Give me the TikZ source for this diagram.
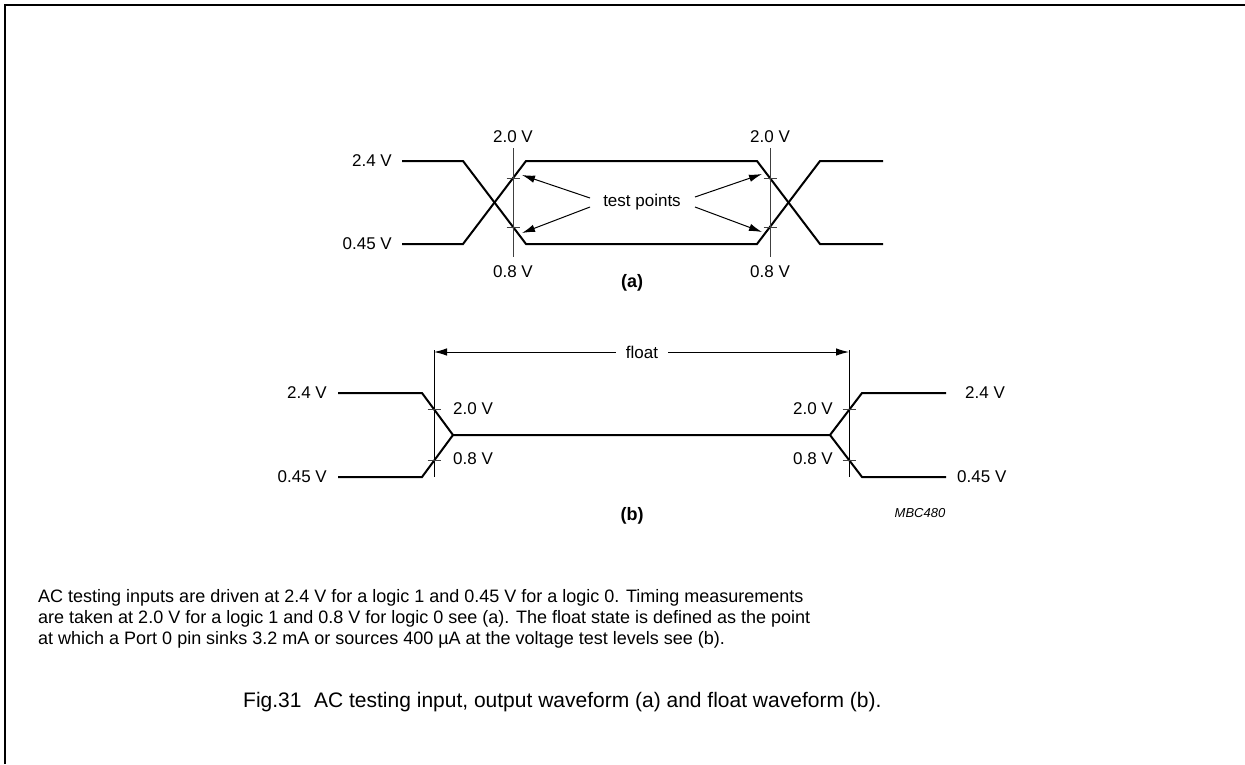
\documentclass[tikz,border=0pt]{standalone}
\usepackage{fontspec}
\setmainfont{Liberation Sans}
\usetikzlibrary{arrows.meta}
\tikzset{
  wave/.style={line width=2pt, line join=miter},
  guide/.style={line width=0.9pt, black!75},
  tick/.style={line width=0.9pt, black!75},
  lab/.style={font=\fontsize{17}{19}\selectfont, inner sep=0pt},
  sub/.style={font=\fontsize{18}{20}\selectfont\bfseries, inner sep=0pt},
  ptr/.style={line width=1pt, -{Latex[length=13pt,width=7.5pt]}},
  frame/.style={line width=2pt},
  para/.style={font=\fontsize{18}{21}\selectfont, inner sep=0pt, anchor=base west},
}
\begin{document}
\begin{tikzpicture}[x=1pt,y=-1pt]
\useasboundingbox (0,0) rectangle (1245,764);
\fill[white] (0,0) rectangle (1245,764);
% frame
\coordinate (fbl) at (5,764);
\coordinate (ftl) at (5,5);
\coordinate (ftr) at (1245,5);
\draw[frame] (fbl) -- (ftl) -- (ftr);

% ---------- (a) ----------
\coordinate (a1) at (402,161); \coordinate (a2) at (463,161);
\coordinate (a3) at (526,244); \coordinate (a4) at (757,244);
\coordinate (a5) at (820,161); \coordinate (a6) at (883,161);
\coordinate (b1) at (402,244); \coordinate (b2) at (463,244);
\coordinate (b3) at (526,161); \coordinate (b4) at (757,161);
\coordinate (b5) at (820,244); \coordinate (b6) at (883,244);
\draw[wave] (a1) -- (a2) -- (a3) -- (a4) -- (a5) -- (a6);
\draw[wave] (b1) -- (b2) -- (b3) -- (b4) -- (b5) -- (b6);

\coordinate (va1) at (513,148); \coordinate (va2) at (513,257);
\coordinate (vb1) at (770,148); \coordinate (vb2) at (770,257);
\draw[guide] (va1) -- (va2);
\draw[guide] (vb1) -- (vb2);
\coordinate (ta1) at (513,178); \coordinate (ta2) at (513,227);
\coordinate (tb1) at (770,178); \coordinate (tb2) at (770,227);
\foreach \p in {ta1,ta2,tb1,tb2} \draw[tick] ([xshift=-6.5pt]\p) -- ([xshift=6.5pt]\p);

\node[lab, anchor=east] (la24) at (392,161) {2.4 V};
\node[lab, anchor=east] (la045) at (392,244) {0.45 V};
\node[lab] (la20l) at (513,137) {2.0 V};
\node[lab] (la08l) at (513,272) {0.8 V};
\node[lab] (la20r) at (770,137) {2.0 V};
\node[lab] (la08r) at (770,272) {0.8 V};
\node[lab] (tp) at (642,202) {test points};
\node[sub] (suba) at (632,283) {(a)};

\coordinate (pl1) at (590,198); \coordinate (pl2) at (590,207);
\coordinate (pr1) at (695,197); \coordinate (pr2) at (695,207);
\draw[ptr] (pl1) -- ([xshift=9pt,yshift=3pt]ta1);
\draw[ptr] (pl2) -- ([xshift=9pt,yshift=-6pt]ta2);
\draw[ptr] (pr1) -- ([xshift=-8pt,yshift=4pt]tb1);
\draw[ptr] (pr2) -- ([xshift=-8pt,yshift=-5pt]tb2);

% ---------- (b) ----------
\coordinate (c1) at (338,393); \coordinate (c2) at (422,393);
\coordinate (c3) at (453,435); \coordinate (c4) at (830,435);
\coordinate (c5) at (862,393); \coordinate (c6) at (946,393);
\coordinate (d1) at (338,477); \coordinate (d2) at (422,477);
\coordinate (d5) at (862,477); \coordinate (d6) at (946,477);
\draw[wave] (c1) -- (c2) -- (c3) -- (c4) -- (c5) -- (c6);
\draw[wave] (d1) -- (d2) -- (c3);
\draw[wave] (c4) -- (d5) -- (d6);

\coordinate (vl1) at (434,350); \coordinate (vl2) at (434,477);
\coordinate (vr1) at (849,350); \coordinate (vr2) at (849,477);
\draw[line width=0.9pt] (vl1) -- (vl2);
\draw[line width=0.9pt] (vr1) -- (vr2);
\coordinate (tl1) at (434,409); \coordinate (tl2) at (434,460);
\coordinate (tr1) at (849,409); \coordinate (tr2) at (849,460);
\foreach \p in {tl1,tl2,tr1,tr2} \draw[tick] ([xshift=-6.5pt]\p) -- ([xshift=6.5pt]\p);

\node[lab] (fl) at (642,352) {float};
\coordinate (fla) at (434,352); \coordinate (flb) at (849,352);
\draw[ptr] ([xshift=-10pt]fl.west) -- (fla);
\draw[ptr] ([xshift=10pt]fl.east) -- (flb);

\node[lab, anchor=east] (lb24) at (327,393) {2.4 V};
\node[lab, anchor=east] (lb045) at (327,477) {0.45 V};
\node[lab, anchor=west] (lb20l) at (453,409) {2.0 V};
\node[lab, anchor=west] (lb08l) at (453,459) {0.8 V};
\node[lab, anchor=east] (lb20r) at (833,409) {2.0 V};
\node[lab, anchor=east] (lb08r) at (833,459) {0.8 V};
\node[lab, anchor=west] (lb24r) at (965,393) {2.4 V};
\node[lab, anchor=west] (lb045r) at (957,477) {0.45 V};
\node[sub] (subb) at (632,516) {(b)};
\node[font=\fontsize{13}{15}\selectfont\itshape, inner sep=0pt] (code) at (920,513) {MBC480};

% ---------- text ----------
\node[para] (p1) at (38,602) {AC testing inputs are driven at 2.4 V for a logic 1 and 0.45 V for a logic 0. Timing measurements};
\node[para] (p2) at (38,623) {are taken at 2.0 V for a logic 1 and 0.8 V for logic 0 see (a). The float state is defined as the point};
\node[para] (p3) at (38,644) {at which a Port 0 pin sinks 3.2 mA or sources 400 µA at the voltage test levels see (b).};

\node[font=\fontsize{21}{24}\selectfont, inner sep=0pt, anchor=base west] (cap) at (243,707) {Fig.31\hspace{0.6em}AC testing input, output waveform (a) and float waveform (b).};
\end{tikzpicture}
\end{document}
